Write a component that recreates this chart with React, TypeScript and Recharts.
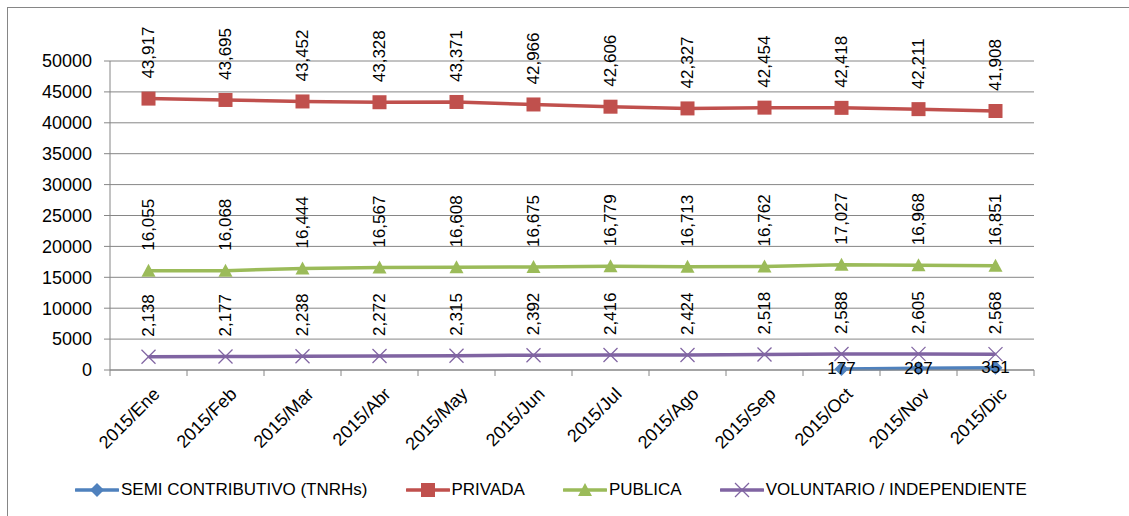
import React from "react";
import {
  LineChart,
  Line,
  XAxis,
  YAxis,
  CartesianGrid,
  Legend,
  LabelList,
} from "recharts";

// Categories and series
const months = [
  "2015/Ene", "2015/Feb", "2015/Mar", "2015/Abr", "2015/May", "2015/Jun",
  "2015/Jul", "2015/Ago", "2015/Sep", "2015/Oct", "2015/Nov", "2015/Dic",
];
const semi: (number | null)[] = [null, null, null, null, null, null, null, null, null, 177, 287, 351];
const privada = [43917, 43695, 43452, 43328, 43371, 42966, 42606, 42327, 42454, 42418, 42211, 41908];
const publica = [16055, 16068, 16444, 16567, 16608, 16675, 16779, 16713, 16762, 17027, 16968, 16851];
const voluntario = [2138, 2177, 2238, 2272, 2315, 2392, 2416, 2424, 2518, 2588, 2605, 2568];
const yTicks = [0, 5000, 10000, 15000, 20000, 25000, 30000, 35000, 40000, 45000, 50000];

const data = months.map((m, i) => ({
  month: m,
  semi: semi[i],
  privada: privada[i],
  publica: publica[i],
  voluntario: voluntario[i],
}));

const W = 1129;
const H = 516;
const MARGIN = { top: 61, right: 95, left: 0, bottom: 6 };
const Y_W = 110;
const PLOT_W = W - MARGIN.left - MARGIN.right - Y_W;
const BAND = PLOT_W / months.length;
const FONT = "'Liberation Sans', Arial, sans-serif";
const GRID = "#868686";

const COLORS = {
  semi: "#4F81BD",
  privada: "#C0504D",
  publica: "#9BBB59",
  voluntario: "#8064A2",
};

type Shape = "diamond" | "square" | "triangle" | "cross";

const Marker = ({ shape, cx, cy, color }: { shape: Shape; cx: number; cy: number; color: string }) => {
  const s = 7;
  if (shape === "square")
    return <rect x={cx - s} y={cy - s} width={2 * s} height={2 * s} fill={color} />;
  if (shape === "diamond")
    return <path d={`M${cx},${cy - s} L${cx + s},${cy} L${cx},${cy + s} L${cx - s},${cy} Z`} fill={color} />;
  if (shape === "triangle")
    return <path d={`M${cx},${cy - s} L${cx + s},${cy + s - 1} L${cx - s},${cy + s - 1} Z`} fill={color} />;
  return (
    <g stroke={color} strokeWidth={1.3}>
      <line x1={cx - s} y1={cy - s} x2={cx + s} y2={cy + s} />
      <line x1={cx - s} y1={cy + s} x2={cx + s} y2={cy - s} />
    </g>
  );
};

const makeDot = (shape: Shape, color: string) => (props: any) => {
  const { cx, cy, value, index } = props;
  if (value == null || cy == null) return <g key={`d${index}`} />;
  return (
    <g key={`d${index}`}>
      <Marker shape={shape} cx={cx} cy={cy} color={color} />
    </g>
  );
};

const fmt = (v: number) => v.toLocaleString("en-US");

// vertical data label sitting above the point
const VerticalLabel = (props: any) => {
  const { x, y, value } = props;
  if (value == null) return null;
  const tx = x;
  const ty = y - 20;
  return (
    <text
      x={tx}
      y={ty}
      transform={`rotate(-90 ${tx} ${ty})`}
      textAnchor="start"
      dominantBaseline="central"
      fontSize={17}
      fontFamily={FONT}
      fill="#000"
    >
      {fmt(value)}
    </text>
  );
};

const CenterLabel = (props: any) => {
  const { x, y, value } = props;
  if (value == null) return null;
  return (
    <text x={x} y={y} textAnchor="middle" dominantBaseline="central" fontSize={17} fontFamily={FONT} fill="#000">
      {fmt(value)}
    </text>
  );
};

const XTick = (props: any) => {
  const { x, y, payload, index } = props;
  return (
    <g>
      <line x1={x + BAND / 2} y1={y} x2={x + BAND / 2} y2={y + 6} stroke={GRID} />
      {index === 0 && <line x1={x - BAND / 2} y1={y} x2={x - BAND / 2} y2={y + 6} stroke={GRID} />}
      <text
        transform={`translate(${x + 8},${y + 21}) rotate(-45)`}
        textAnchor="end"
        dominantBaseline="central"
        fontSize={18}
        fontFamily={FONT}
        fill="#000"
      >
        {payload.value}
      </text>
    </g>
  );
};

const legendItems: { key: keyof typeof COLORS; label: string; shape: Shape }[] = [
  { key: "semi", label: "SEMI CONTRIBUTIVO (TNRHs)", shape: "diamond" },
  { key: "privada", label: "PRIVADA", shape: "square" },
  { key: "publica", label: "PUBLICA", shape: "triangle" },
  { key: "voluntario", label: "VOLUNTARIO / INDEPENDIENTE", shape: "cross" },
];

const LegendContent = () => (
  <div style={{ height: 40, display: "flex", alignItems: "center", paddingLeft: 75, gap: 38 }}>
    {legendItems.map((it) => (
      <div key={it.key} style={{ display: "flex", alignItems: "center" }}>
        <svg width={44} height={18}>
          <line x1={1} y1={9} x2={43} y2={9} stroke={COLORS[it.key]} strokeWidth={3.5} strokeLinecap="round" />
          <Marker shape={it.shape} cx={22} cy={9} color={COLORS[it.key]} />
        </svg>
        <span style={{ fontFamily: FONT, fontSize: 17, color: "#000", marginLeft: 2 }}>{it.label}</span>
      </div>
    ))}
  </div>
);

const App: React.FC = () => {
  return (
    <div style={{ position: "absolute", left: 0, top: 0, width: W, height: H, background: "#fff" }}>
      <div
        style={{
          position: "absolute",
          left: 7,
          top: 7,
          right: 0,
          bottom: 0,
          borderLeft: `1px solid ${GRID}`,
          borderTop: `1px solid ${GRID}`,
        }}
      />
      <LineChart width={W} height={H} data={data} margin={MARGIN}>
        <CartesianGrid vertical={false} stroke={GRID} />
        <XAxis
          dataKey="month"
          height={100}
          stroke={GRID}
          tickLine={false}
          tickSize={0}
          tickMargin={0}
          tick={<XTick />}
          interval={0}
          padding={{ left: BAND / 2, right: BAND / 2 }}
        />
        <YAxis
          width={Y_W}
          domain={[0, 50000]}
          ticks={yTicks}
          stroke={GRID}
          tickSize={6}
          tickMargin={12}
          tick={{ fill: "#000", fontSize: 18, fontFamily: FONT }}
          interval={0}
        />
        <Legend verticalAlign="bottom" content={<LegendContent />} />
        <Line dataKey="semi" stroke={COLORS.semi} strokeWidth={3.5} dot={makeDot("diamond", COLORS.semi)} activeDot={false} isAnimationActive={false}>
          <LabelList dataKey="semi" content={<CenterLabel />} />
        </Line>
        <Line dataKey="privada" stroke={COLORS.privada} strokeWidth={3.5} dot={makeDot("square", COLORS.privada)} activeDot={false} isAnimationActive={false}>
          <LabelList dataKey="privada" content={<VerticalLabel />} />
        </Line>
        <Line dataKey="publica" stroke={COLORS.publica} strokeWidth={3.5} dot={makeDot("triangle", COLORS.publica)} activeDot={false} isAnimationActive={false}>
          <LabelList dataKey="publica" content={<VerticalLabel />} />
        </Line>
        <Line dataKey="voluntario" stroke={COLORS.voluntario} strokeWidth={3.5} dot={makeDot("cross", COLORS.voluntario)} activeDot={false} isAnimationActive={false}>
          <LabelList dataKey="voluntario" content={<VerticalLabel />} />
        </Line>
      </LineChart>
    </div>
  );
};

export default App;
